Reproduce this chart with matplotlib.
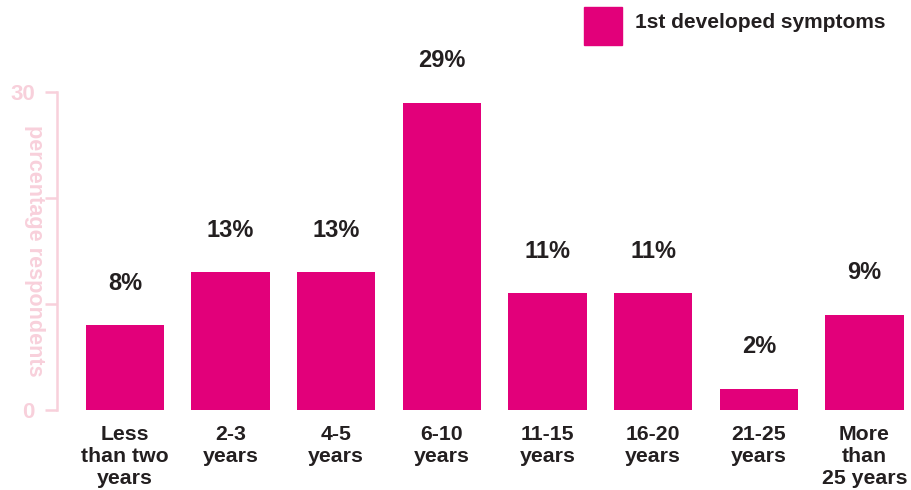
import matplotlib
matplotlib.use('Agg')
import matplotlib.pyplot as plt
from matplotlib.patches import Rectangle

categories = ['Less\nthan two\nyears', '2-3\nyears', '4-5\nyears', '6-10\nyears',
              '11-15\nyears', '16-20\nyears', '21-25\nyears', 'More\nthan\n25 years']
values = [8, 13, 13, 29, 11, 11, 2, 9]
series_name = '1st developed symptoms'
yticks = [0, 10, 20, 30]
ytick_labels = ['0', '', '', '30']

BAR = '#E2007A'
PINK = '#F8D0DB'
DARK = '#231F20'

plt.rcParams['font.family'] = ['Liberation Sans', 'DejaVu Sans']
plt.rcParams['font.weight'] = 'bold'

fig = plt.figure(figsize=(9.12, 4.9), dpi=100)
ax = fig.add_axes([57 / 912, 80 / 490, 855 / 912, 318 / 490])

x = list(range(len(values)))
bars = ax.bar(x, values, width=0.74, color=BAR)

for xi, v in zip(x, values):
    ax.annotate(f'{v}%', (xi, v), xytext=(0, 22), textcoords='offset points',
                ha='center', va='bottom', fontsize=17, fontweight='bold',
                color=DARK, annotation_clip=False)

ax.set_xlim(-0.643, 7.45)
ax.set_ylim(0, 30)
ax.set_xticks(x)
ax.set_xticklabels(categories, fontsize=15.3, fontweight='bold', color=DARK,
                   linespacing=1.2)
ax.tick_params(axis='x', length=0, pad=10.5)

ax.set_yticks(yticks)
ax.set_yticklabels(ytick_labels, fontsize=16, fontweight='bold', color=PINK)
ax.tick_params(axis='y', length=9, width=1.8, color=PINK, pad=7)

for s in ['top', 'right', 'bottom']:
    ax.spines[s].set_visible(False)
ax.spines['left'].set_color(PINK)
ax.spines['left'].set_linewidth(1.8)

ax.set_ylabel('percentage respondents', rotation=270, fontsize=15.6,
              fontweight='bold', color=PINK)
ax.yaxis.set_label_coords(-0.039, 0.5)

# legend
fig.add_artist(Rectangle((584 / 912, 445 / 490), 38 / 912, 38 / 490,
                         transform=fig.transFigure, color=BAR))
fig.text(635 / 912, 468 / 490, series_name, fontsize=15, fontweight='bold',
         color=DARK, va='center', ha='left')

fig.savefig('out.png', dpi=100)
